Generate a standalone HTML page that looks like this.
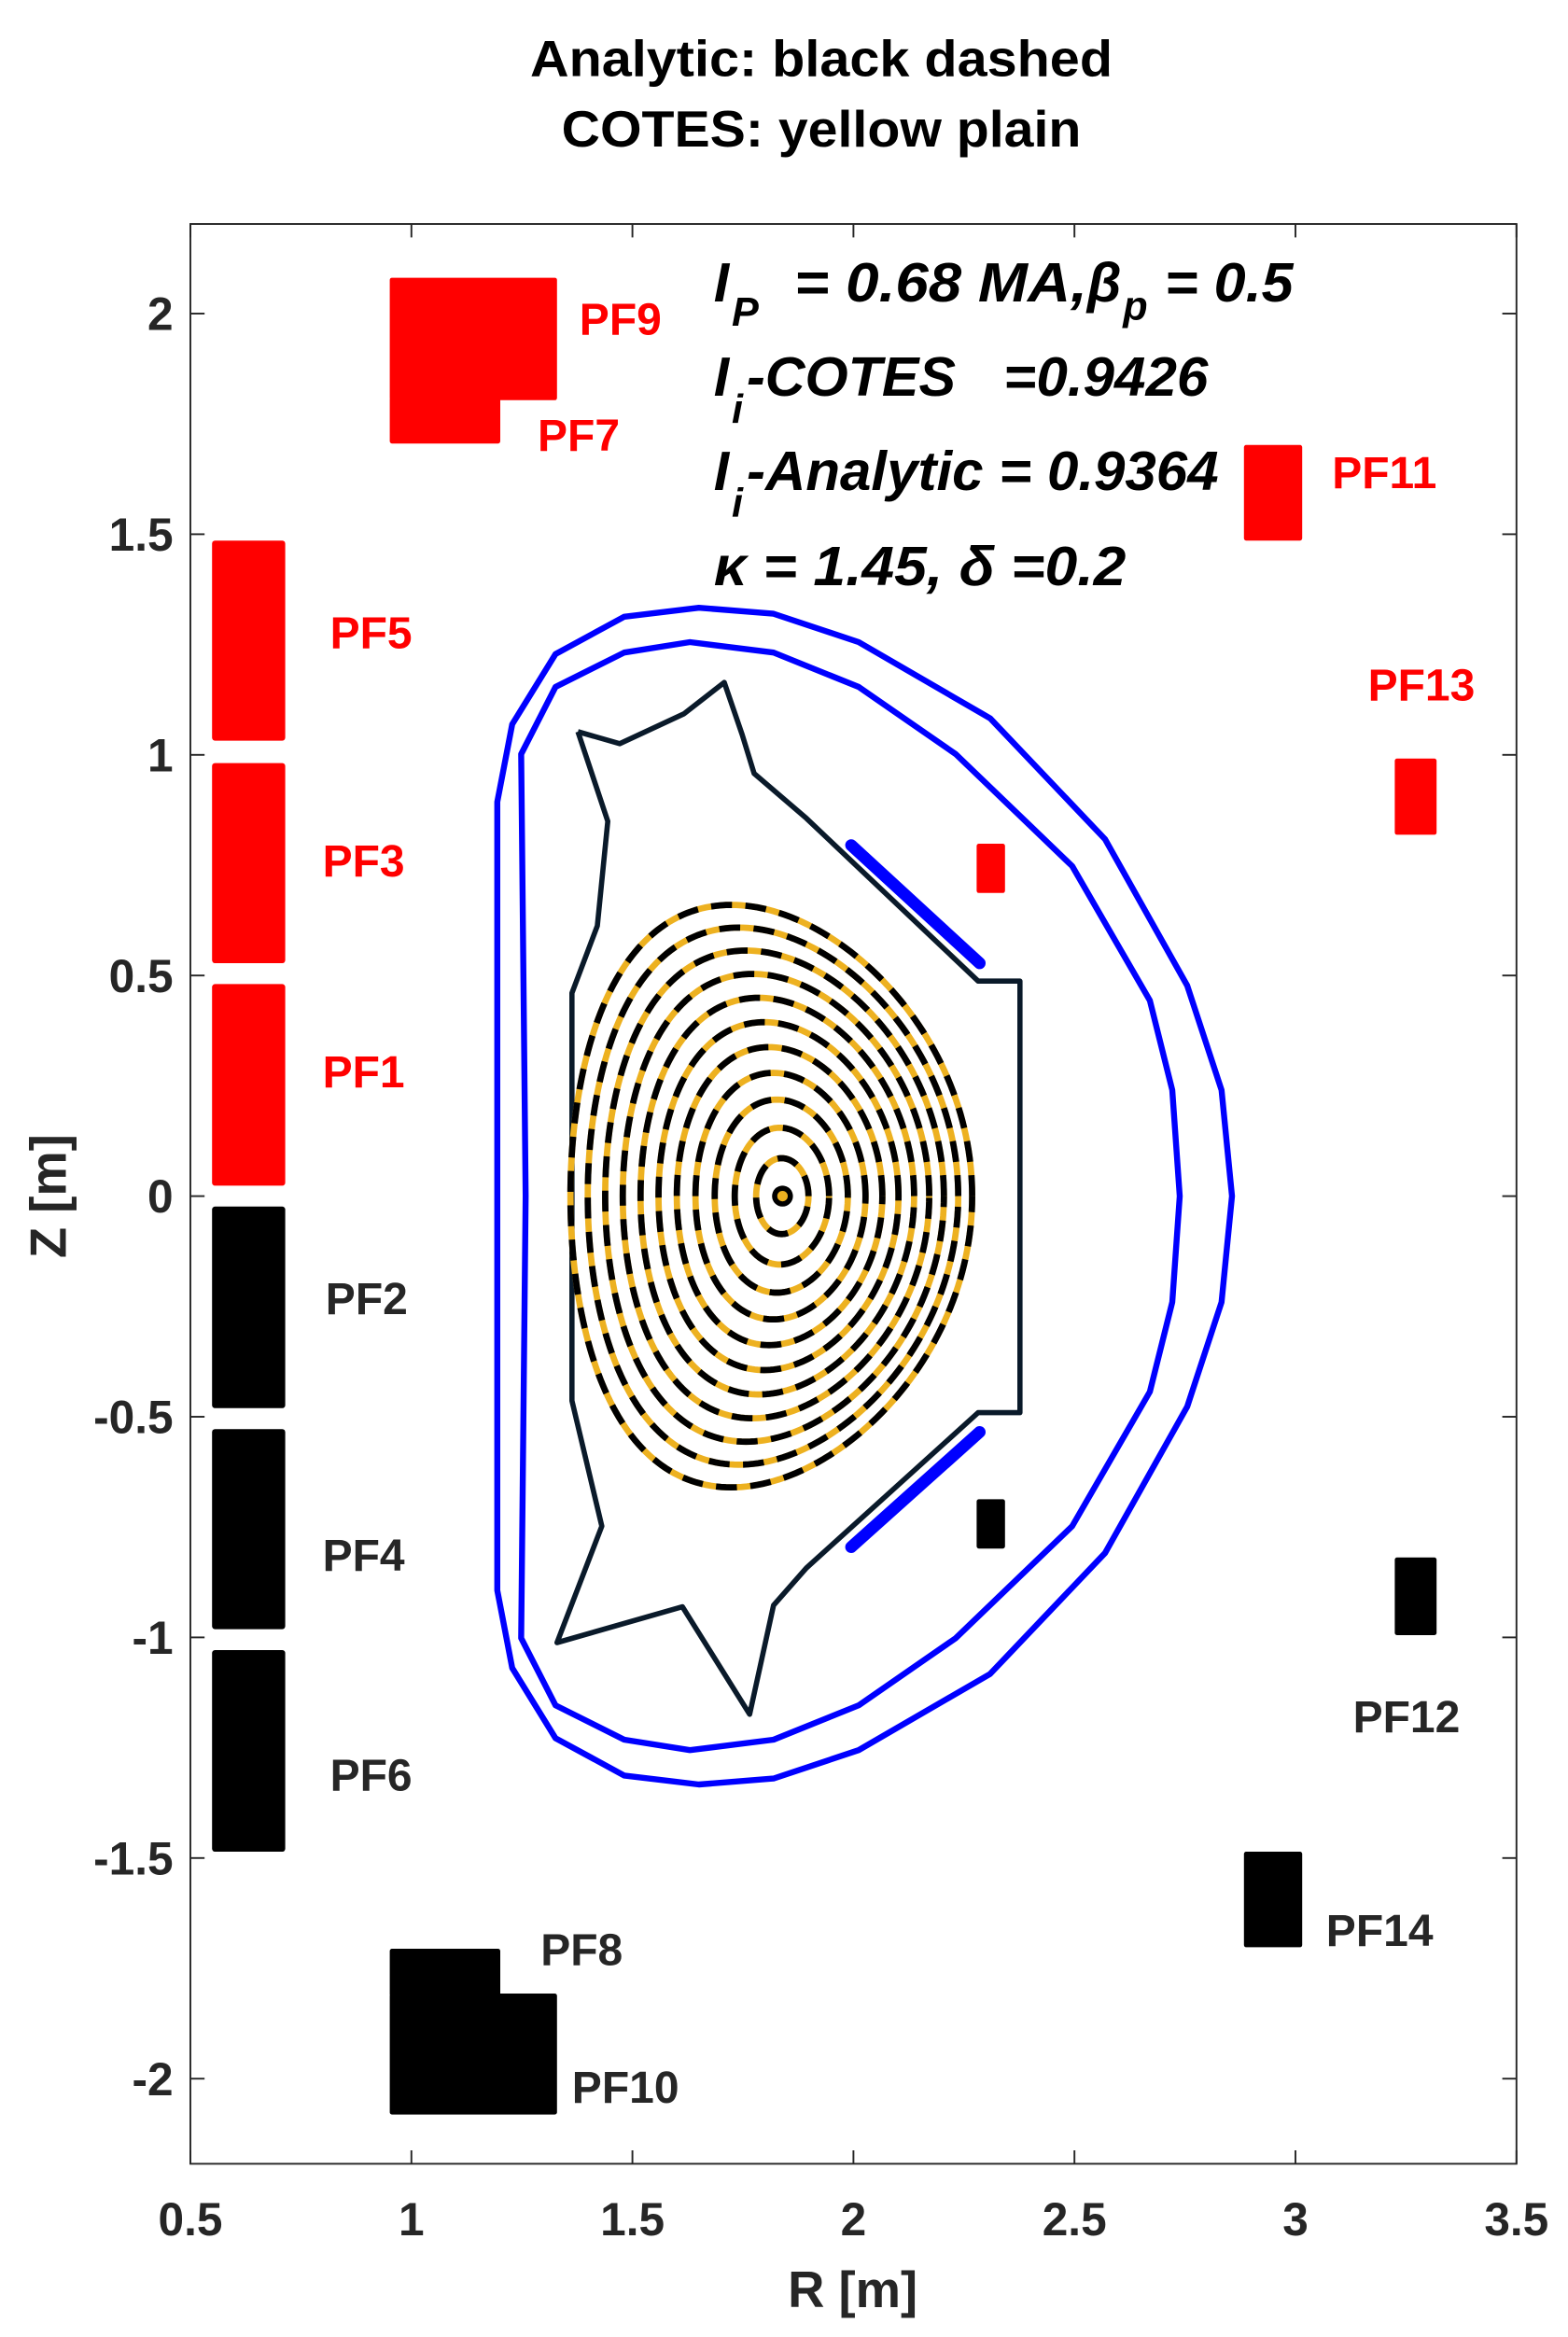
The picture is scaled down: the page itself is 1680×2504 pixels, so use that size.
<!DOCTYPE html>
<html><head><meta charset="utf-8"><style>
html,body{margin:0;padding:0;background:#fff;}
svg{display:block;}
text{font-family:"Liberation Sans",sans-serif;font-weight:bold;}
</style></head><body>
<svg id="s" width="1680" height="2504" viewBox="0 0 1050 1565" xmlns="http://www.w3.org/2000/svg">
<rect x="0" y="0" width="1050" height="1565" fill="#fff"/>
<text x="550" y="51" font-size="34" text-anchor="middle" fill="#000" textLength="390" lengthAdjust="spacingAndGlyphs">Analytic: black dashed</text>
<text x="550" y="98" font-size="34" text-anchor="middle" fill="#000" textLength="348" lengthAdjust="spacingAndGlyphs">COTES: yellow plain</text>
<rect x="127.5" y="150" width="888" height="1299" fill="none" stroke="#262626" stroke-width="1.2"/>
<g stroke="#262626" stroke-width="1.2" id="ticks"></g>
<g id="ticklabels" fill="#262626" font-size="31"></g>
<text x="571" y="1545" font-size="34" text-anchor="middle" fill="#262626">R [m]</text>
<text transform="translate(44,801) rotate(-90)" font-size="34" text-anchor="middle" fill="#262626">Z [m]</text>

<g fill="#ff0000">
<rect x="261" y="186" width="112" height="82" rx="1.5"/>
<rect x="261" y="266" width="74" height="31" rx="1.5"/>
<rect x="142" y="362" width="49" height="134" rx="2"/>
<rect x="142" y="511" width="49" height="134" rx="2"/>
<rect x="142" y="659" width="49" height="135" rx="2"/>
<rect x="833" y="298" width="39" height="64" rx="1.5"/>
<rect x="934" y="508" width="28" height="51" rx="1.5"/>
<rect x="654" y="565" width="19" height="33" rx="1.5"/>
</g>
<g fill="#000">
<rect x="142" y="808" width="49" height="135" rx="2"/>
<rect x="142" y="957" width="49" height="134" rx="2"/>
<rect x="142" y="1105" width="49" height="135" rx="2"/>
<rect x="261" y="1305" width="74" height="32" rx="1.5"/>
<rect x="261" y="1335" width="112" height="81" rx="1.5"/>
<rect x="833" y="1240" width="39" height="64" rx="1.5"/>
<rect x="934" y="1043" width="28" height="52" rx="1.5"/>
<rect x="654" y="1004" width="19" height="33" rx="1.5"/>
</g>
<g font-size="30" fill="#ff0000">
<text x="388" y="224">PF9</text>
<text x="360" y="302">PF7</text>
<text x="221" y="434">PF5</text>
<text x="216" y="587">PF3</text>
<text x="216" y="728">PF1</text>
<text x="892" y="327">PF11</text>
<text x="916" y="469">PF13</text>
</g>
<g font-size="30" fill="#262626">
<text x="218" y="880">PF2</text>
<text x="216" y="1052">PF4</text>
<text x="221" y="1199">PF6</text>
<text x="362" y="1316">PF8</text>
<text x="383" y="1408">PF10</text>
<text x="906" y="1160">PF12</text>
<text x="888" y="1303">PF14</text>
</g>

<g font-size="37" font-style="italic" fill="#000">
<text x="478" y="202">I</text><text x="490" y="218" font-size="27">P</text>
<text x="532" y="202" textLength="196" lengthAdjust="spacingAndGlyphs">= 0.68 MA,</text>
<text x="728" y="202">β</text><text x="752" y="214" font-size="27">p</text>
<text x="780" y="202" textLength="86" lengthAdjust="spacingAndGlyphs">= 0.5</text>
<text x="478" y="265">I</text><text x="490" y="283" font-size="27">i</text>
<text x="500" y="265" textLength="140" lengthAdjust="spacingAndGlyphs">-COTES</text>
<text x="672" y="265" textLength="137" lengthAdjust="spacingAndGlyphs">=0.9426</text>
<text x="478" y="328">I</text><text x="490" y="346" font-size="27">i</text>
<text x="500" y="328" textLength="316" lengthAdjust="spacingAndGlyphs">-Analytic = 0.9364</text>
<text x="478" y="392" textLength="276" lengthAdjust="spacingAndGlyphs">κ  = 1.45, δ =0.2</text>
</g>

<g fill="none" stroke="#0000ff" stroke-width="4" stroke-linejoin="round">
<polyline id="outer" points=""/>
<polyline id="inner" points=""/>
</g>
<g stroke="#0000ff" stroke-width="8" stroke-linecap="round">
<line x1="570" y1="566" x2="656" y2="645"/>
<line x1="570" y1="1036" x2="656" y2="959"/>
</g>
<polyline fill="none" stroke="#0a1a2a" stroke-width="3.5" stroke-linejoin="round"
points="387,490 415,498 458,478 485,457 497,492 505,518 540,548 655,657 683,657 683,946 655,946 540,1050 518,1075 502,1148 457,1076 373,1100 403,1022 383,938 383,665 400,620 407,550 387,490"/>

<g id="flux"></g>
<circle cx="524" cy="801" r="7" fill="#000"/>
<circle cx="524" cy="801" r="3.5" fill="#EDB120"/>
</svg>
<script>
var NS="http://www.w3.org/2000/svg";
function el(t,a,p){var e=document.createElementNS(NS,t);for(var k in a)e.setAttribute(k,a[k]);p.appendChild(e);return e;}
var tk=document.getElementById('ticks'),tl=document.getElementById('ticklabels');
function X(R){return 127.5+(R-0.5)*296;}
function Y(Z){return 801-Z*295.5;}
[0.5,1,1.5,2,2.5,3,3.5].forEach(function(R){var x=X(R);
 el('line',{x1:x,y1:1449,x2:x,y2:1440},tk);el('line',{x1:x,y1:150,x2:x,y2:159},tk);
 var t=el('text',{x:x,y:1497,'text-anchor':'middle'},tl);t.textContent=String(R);});
[-2,-1.5,-1,-0.5,0,0.5,1,1.5,2].forEach(function(Z){var y=Y(Z);
 el('line',{x1:127.5,y1:y,x2:137,y2:y},tk);el('line',{x1:1015.5,y1:y,x2:1006,y2:y},tk);
 var t=el('text',{x:116,y:y+11,'text-anchor':'end'},tl);t.textContent=String(Z);});
function pts(a){var h=a.map(function(p){return p[0]+','+p[1];});
 var b=a.slice().reverse().slice(1).map(function(p){return p[0]+','+(1602-p[1]);});return h.concat(b).join(' ');}
document.getElementById('outer').setAttribute('points',pts([[333,801],[333,537],[343,485],[372,438],[418,413],[468,407],[518,411],[575,430],[663,481],[740,562],[795,660],[818,730],[825,801]]));
document.getElementById('inner').setAttribute('points',pts([[352,801],[349,505],[372,460],[418,437],[462,430],[518,437],[575,460],[640,505],[718,580],[770,670],[785,730],[790,801]]));
var fl=document.getElementById('flux');var N=11;
for(var k=1;k<=N;k++){var r=Math.pow(k/N,0.85);
 var R0=524-7.5*r*r,a=134.5*r,kap=1.45,d=0.2*r;var p=[];
 for(var i=0;i<=240;i++){var th=i/240*2*Math.PI;
  p.push((R0+a*Math.cos(th+Math.asin(d)*Math.sin(th))).toFixed(2)+','+(801-kap*a*Math.sin(th)).toFixed(2));}
 var ps=p.join(' ');
 el('polyline',{points:ps,fill:'none',stroke:'#EDB120','stroke-width':4.2},fl);
 el('polyline',{points:ps,fill:'none',stroke:'#000','stroke-width':4.2,'stroke-dasharray':'14 9'},fl);}
</script>
</body></html>
